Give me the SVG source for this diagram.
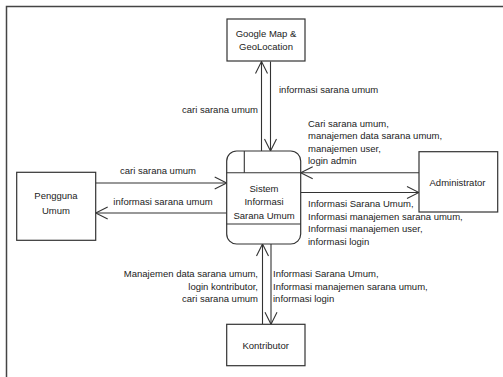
<svg xmlns="http://www.w3.org/2000/svg" width="503" height="377" viewBox="0 0 503 377">
<defs>
<style>
.box{fill:#fff;stroke:#333;stroke-width:1.2}
.ln{fill:none;stroke:#333;stroke-width:1.1}
text{font-family:"Liberation Sans",Arial,sans-serif;font-size:9.5px;fill:#222}
.c{text-anchor:middle}
.e{text-anchor:end}
</style>
<marker id="ah" viewBox="0 0 14 14" refX="13" refY="7" markerWidth="14" markerHeight="14" markerUnits="userSpaceOnUse" orient="auto">
<path d="M1,1 L13,7 L1,13" fill="none" stroke="#333" stroke-width="1.1"/>
</marker>
</defs>
<rect width="503" height="377" fill="#fff"/>
<path d="M6.5,377 V6.5 H503" fill="none" stroke="#444" stroke-width="1.5"/>

<g id="connectors">
<line class="ln" x1="261.5" y1="151" x2="261.5" y2="61.5" marker-end="url(#ah)"/>
<line class="ln" x1="270.5" y1="61.5" x2="270.5" y2="151" marker-end="url(#ah)"/>
<line class="ln" x1="95.7" y1="183" x2="226.7" y2="183" marker-end="url(#ah)"/>
<line class="ln" x1="226.7" y1="213" x2="95.7" y2="213" marker-end="url(#ah)"/>
<line class="ln" x1="419" y1="172.7" x2="300.7" y2="172.7" marker-end="url(#ah)"/>
<line class="ln" x1="300.7" y1="192.5" x2="419" y2="192.5" marker-end="url(#ah)"/>
<line class="ln" x1="262.5" y1="324.3" x2="262.5" y2="244" marker-end="url(#ah)"/>
<line class="ln" x1="271" y1="244" x2="271" y2="324.3" marker-end="url(#ah)"/>
<text x="279" y="92.5">informasi sarana umum</text>
<text class="e" x="258" y="112.5">cari sarana umum</text>
<text class="c" x="158" y="173.5">cari sarana umum</text>
<text class="c" x="163" y="204.5">informasi sarana umum</text>
<text x="308" y="126.5">Cari sarana umum,</text>
<text x="308" y="139">manajemen data sarana umum,</text>
<text x="308" y="151.5">manajemen user,</text>
<text x="308" y="164">login admin</text>
<text x="308" y="207">Informasi Sarana Umum,</text>
<text x="308" y="219.5">Informasi manajemen sarana umum,</text>
<text x="308" y="232">Informasi manajemen user,</text>
<text x="308" y="244.5">informasi login</text>
<text class="e" x="258" y="277">Manajemen data sarana umum,</text>
<text class="e" x="258" y="289.5">login kontributor,</text>
<text class="e" x="258" y="302">cari sarana umum</text>
<text x="273" y="277">Informasi Sarana Umum,</text>
<text x="273" y="289.5">Informasi manajemen sarana umum,</text>
<text x="273" y="302">informasi login</text>
</g>

<g id="google">
<rect class="box" x="227" y="19" width="78" height="42"/>
<text class="c" x="266" y="36.5">Google Map &amp;</text>
<text class="c" x="266" y="50">GeoLocation</text>
</g>

<g id="process">
<rect class="box" x="226.7" y="151" width="74" height="93" rx="10" ry="10"/>
<line class="ln" x1="226.7" y1="172.7" x2="300.7" y2="172.7"/>
<line class="ln" x1="244.3" y1="151" x2="244.3" y2="172.7"/>
<line class="ln" x1="226.7" y1="224" x2="300.7" y2="224"/>
<text class="c" x="264" y="191.5">Sistem</text>
<text class="c" x="264" y="205">Informasi</text>
<text class="c" x="264" y="218.5">Sarana Umum</text>
</g>

<g id="pengguna">
<rect class="box" x="16.7" y="172.3" width="79" height="68"/>
<text class="c" x="56" y="198.5">Pengguna</text>
<text class="c" x="56" y="213.5">Umum</text>
</g>

<g id="administrator">
<rect class="box" x="419" y="151.7" width="78.7" height="60.3"/>
<text class="c" x="457.5" y="186">Administrator</text>
</g>

<g id="kontributor">
<rect class="box" x="226.7" y="324.3" width="78.3" height="41.4"/>
<text class="c" x="265.7" y="348.5">Kontributor</text>
</g>
</svg>
